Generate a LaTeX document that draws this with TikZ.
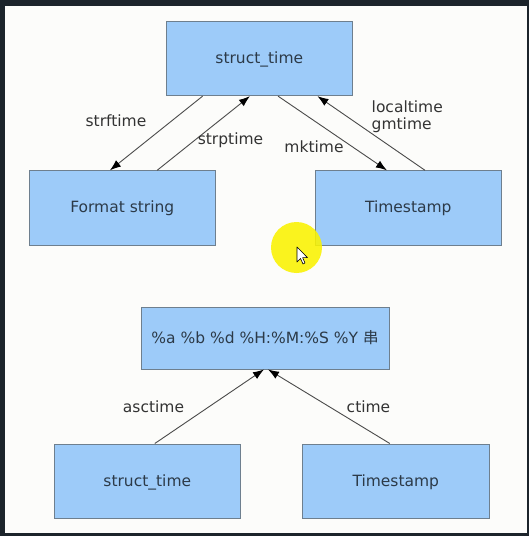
\documentclass[tikz,border=0pt]{standalone}
\usepackage{fontspec}
\setmainfont{DejaVu Sans}
\newfontfamily\cjk{Noto Sans CJK SC}
\usetikzlibrary{arrows.meta,calc}
\definecolor{frame}{HTML}{1C242B}
\definecolor{paper}{HTML}{FCFCFA}
\definecolor{boxfill}{HTML}{9DCBF9}
\definecolor{boxline}{HTML}{6E7F8E}
\definecolor{boxtext}{HTML}{2C3A48}
\definecolor{linecol}{HTML}{4A4A4A}
\definecolor{labtext}{HTML}{333333}
\definecolor{hilite}{HTML}{FAF200}
\tikzset{
  boxnode/.style={draw=boxline, line width=0.9pt, fill=boxfill, text=boxtext,
    inner sep=0pt, text height=12pt, text depth=2pt, font=\fontsize{15.5}{17}\selectfont},
  conn/.style={draw=linecol, line width=0.9pt, -{Latex[length=11pt,width=8pt,color=black]}},
  lab/.style={text=labtext, inner sep=0pt, font=\fontsize{15.5}{17}\selectfont}
}
\begin{document}
\begin{tikzpicture}[x=1pt,y=-1pt]
\useasboundingbox (0,0) rectangle (529,536);
\fill[frame] (0,0) rectangle (529,536);
\fill[paper] (5,6) rectangle (527,533);
% top group
\node[boxnode, minimum width=186.7pt, minimum height=74pt] (st) at (259.3,58.7) {struct\_time};
\node[boxnode, minimum width=186.6pt, minimum height=74.3pt] (fs) at (122.3,207.9) {Format string};
\node[boxnode, minimum width=186.7pt, minimum height=74.3pt] (ts) at (408.3,207.9) {Timestamp};
% bottom group
\node[boxnode, minimum width=248pt, minimum height=62pt] (fmt) at (265,338) {\%a \%b \%d \%H:\%M:\%S \%Y {\cjk 串}};
\node[boxnode, minimum width=186.7pt, minimum height=74.5pt] (st2) at (147.3,481.2) {struct\_time};
\node[boxnode, minimum width=186.3pt, minimum height=74.5pt] (ts2) at (395.8,481.2) {Timestamp};
% anchor points
\coordinate (stA) at ($(st.south west)!0.198!(st.south east)$);
\coordinate (stB) at ($(st.south west)!0.45!(st.south east)$);
\coordinate (stC) at ($(st.south west)!0.60!(st.south east)$);
\coordinate (stD) at ($(st.south west)!0.81!(st.south east)$);
\coordinate (fsA) at ($(fs.north west)!0.434!(fs.north east)$);
\coordinate (fsB) at ($(fs.north west)!0.686!(fs.north east)$);
\coordinate (tsA) at ($(ts.north west)!0.386!(ts.north east)$);
\coordinate (tsB) at ($(ts.north west)!0.589!(ts.north east)$);
\coordinate (fmA) at ($(fmt.south west)!0.496!(fmt.south east)$);
\coordinate (fmB) at ($(fmt.south west)!0.512!(fmt.south east)$);
\coordinate (st2A) at ($(st2.north west)!0.54!(st2.north east)$);
\coordinate (ts2A) at ($(ts2.north west)!0.468!(ts2.north east)$);
% connectors
\draw[conn] (stA) -- (fsA);
\draw[conn] (fsB) -- (stB);
\draw[conn] (stC) -- (tsA);
\draw[conn] (tsB) -- (stD);
\draw[conn] (st2A) -- (fmA);
\draw[conn] (ts2A) -- (fmB);
% labels
\node[lab] (l1) at (116,121) {strftime};
\node[lab] (l2) at (230.5,140) {strptime};
\node[lab] (l3) at (314,146.5) {mktime};
\node[lab, align=left, anchor=west] (l4) at (371.5,116.5) {localtime\\gmtime};
\node[lab] (l5) at (153.5,406.5) {asctime};
\node[lab] (l6) at (368.5,406.5) {ctime};
% pointer highlight
\fill[hilite, opacity=0.88] (296.5,247.5) circle (25.5);
\draw[black, fill=white, line width=0.6pt, line join=round]
  (297,247) -- (297,262) -- (300.5,258.5) -- (303,264) -- (305,263) -- (302.6,257.6) -- (307.5,257.6) -- cycle;
\end{tikzpicture}
\end{document}
